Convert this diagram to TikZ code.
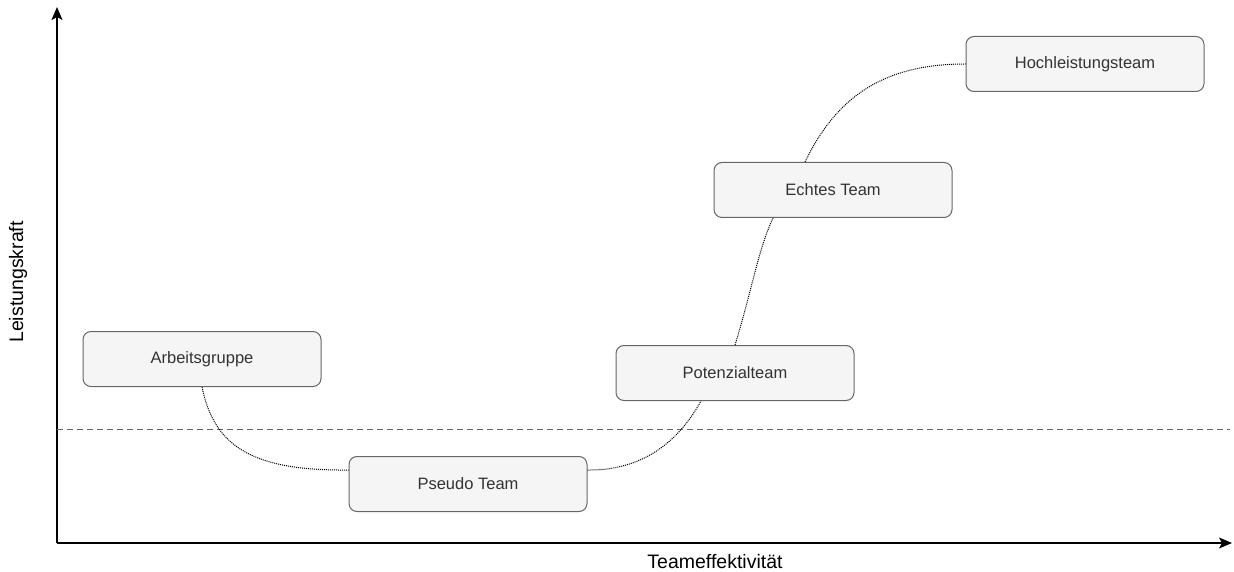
\documentclass[tikz,border=0pt]{standalone}
\usepackage{fontspec}
\setmainfont{Liberation Sans}
\usetikzlibrary{arrows.meta}
\definecolor{boxfill}{HTML}{F5F5F5}
\definecolor{boxline}{HTML}{666666}
\definecolor{boxtext}{HTML}{333333}
\tikzset{
  teambox/.style={draw=boxline, fill=boxfill, text=boxtext, rounded corners=8pt, line width=1pt,
    minimum width=238pt, minimum height=55pt, inner sep=0pt, font=\fontsize{16.5}{19}\selectfont},
  axislabel/.style={font=\fontsize{19.5}{23}\selectfont},
  curve/.style={densely dotted, line width=1pt},
}
\begin{document}
\begin{tikzpicture}[x=1pt, y=-1pt, line cap=butt, line join=round]
            \useasboundingbox (0,0) rectangle (1234,572);
            % axes
            \coordinate (o) at (57,543);
            \coordinate (ytip) at (57,7);
            \coordinate (xtip) at (1232,543);
            \draw[line width=1.4pt, -{Stealth[length=13pt, width=11pt, inset=3pt]}](o)--(ytip);
            \draw[line width=1.4pt, -{Stealth[length=13pt, width=11pt, inset=3pt]}](o)--(xtip);
            \node[axislabel, rotate=90] (yl) at (18,282) {Leistungskraft};
            \node[axislabel] (xl) at (715,562) {Teameffektivität};
            % threshold
            \coordinate (l1) at (57,429);
            \coordinate (l2) at (1230,429);
            \draw[boxline, line width=1pt, dash pattern=on 6pt off 4pt](l1)--(l2);
            % stages
            \foreach \n/\x/\y/\t in {ag/202/359/Arbeitsgruppe, ps/468/484/Pseudo Team, pt/735/373/Potenzialteam, et/833/190/Echtes Team, hl/1085/64/Hochleistungsteam}
            \node[teambox] (\n) at (\x,\y) {\t};
            \draw[curve](ag.south)..controls (214,445) and (250,471)..([yshift=-14pt]ps.north west);
            \draw[curve]([yshift=-14pt]ps.north east)..controls (660,471) and (690,420)..([xshift=-34pt]pt.south);
            \draw[curve](pt.north)..controls (752,290) and (758,250)..([xshift=-60pt]et.south);
            \draw[curve]([xshift=-28pt]et.north)..controls (835,100) and (880,64)..(hl.west);
        \end{tikzpicture}
\end{document}
